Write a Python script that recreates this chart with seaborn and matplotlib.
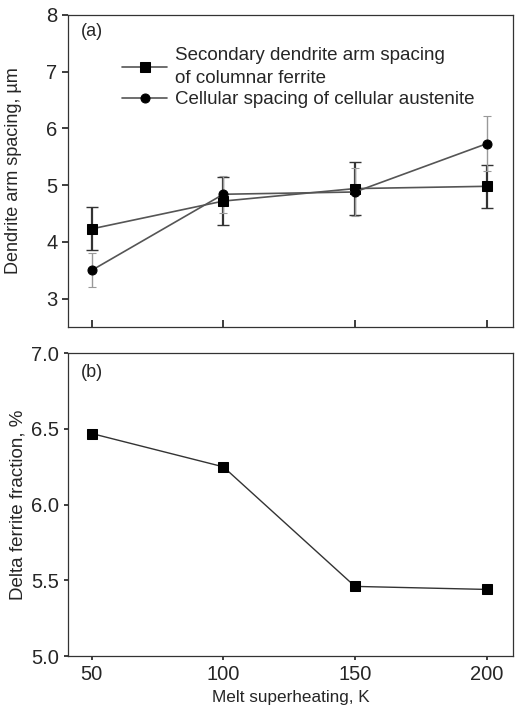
import matplotlib
matplotlib.use("Agg")
import matplotlib.pyplot as plt
import seaborn as sns
import pandas as pd

superheat = [50, 100, 150, 200]
sdas = [4.23, 4.72, 4.94, 4.98]
sdas_err = [0.38, 0.42, 0.46, 0.38]
cell = [3.50, 4.84, 4.88, 5.73]
cell_err = [0.30, 0.33, 0.42, 0.48]
delta_ferrite = [6.47, 6.25, 5.46, 5.44]

sns.set_theme(style="ticks")
plt.rcParams['font.family'] = ['Liberation Sans', 'DejaVu Sans']

fig = plt.figure(figsize=(5.15, 7.08), dpi=100)
ax1 = fig.add_axes([0.132, 0.538, 0.864, 0.441])
ax2 = fig.add_axes([0.132, 0.0734, 0.864, 0.4276])

dfa = pd.DataFrame({"x": superheat, "y": sdas})
dfb = pd.DataFrame({"x": superheat, "y": cell})
dfc = pd.DataFrame({"x": superheat, "y": delta_ferrite})

lc = "#555555"
ax1.errorbar(superheat, sdas, yerr=sdas_err, fmt="none", ecolor="#333333",
             elinewidth=1.6, capsize=4, capthick=1.0, zorder=2)
ax1.errorbar(superheat, cell, yerr=cell_err, fmt="none", ecolor="#999999",
             elinewidth=1.0, capsize=3, capthick=0.8, linestyle=":", zorder=2)
sns.lineplot(data=dfa, x="x", y="y", ax=ax1, color=lc, lw=1.2, marker="s",
             markersize=6.5, markerfacecolor="black", markeredgecolor="black",
             label="Secondary dendrite arm spacing\nof columnar ferrite", zorder=3)
sns.lineplot(data=dfb, x="x", y="y", ax=ax1, color=lc, lw=1.2, marker="o",
             markersize=6.5, markerfacecolor="black", markeredgecolor="black",
             label="Cellular spacing of cellular austenite", zorder=3)

ax1.set_xlim(41, 210)
ax1.set_ylim(2.5, 8)
ax1.set_yticks([3, 4, 5, 6, 7, 8])
ax1.set_xticks(superheat)
ax1.tick_params(axis="x", direction="in", labelbottom=False, length=5)
ax1.tick_params(axis="y", direction="out", labelsize=14.5, length=4)
ax1.set_xlabel("")
ax1.set_ylabel("Dendrite arm spacing, µm", fontsize=13)
ax1.text(0.03, 0.974, "(a)", transform=ax1.transAxes, fontsize=13, va="top")
leg = ax1.legend(loc="upper left", bbox_to_anchor=(0.105, 0.92), frameon=False,
                 fontsize=13.5, handlelength=2.4, handletextpad=0.4,
                 borderaxespad=0, labelspacing=0.2)
for t in leg.get_texts():
    t.set_linespacing(1.45)

sns.lineplot(data=dfc, x="x", y="y", ax=ax2, color="#333333", lw=1.0, marker="s",
             markersize=7, markerfacecolor="black", markeredgecolor="black")
ax2.set_xlim(41, 210)
ax2.set_ylim(5.0, 7.0)
ax2.set_xticks(superheat)
ax2.set_yticks([5.0, 5.5, 6.0, 6.5, 7.0])
ax2.set_yticklabels(["5.0", "5.5", "6.0", "6.5", "7.0"])
ax2.tick_params(axis="both", direction="out", labelsize=14.5, length=3)
ax2.set_xlabel("Melt superheating, K", fontsize=12.3)
ax2.set_ylabel("Delta ferrite fraction, %", fontsize=13.5)
ax2.text(0.03, 0.965, "(b)", transform=ax2.transAxes, fontsize=13, va="top")

for s_ax in (ax1, ax2):
    for s in s_ax.spines.values():
        s.set_linewidth(0.9)
        s.set_color("#333333")
ax1.yaxis.set_label_coords(-0.104, 0.5)
ax2.yaxis.set_label_coords(-0.093, 0.5)

fig.savefig("out.png", dpi=100)
